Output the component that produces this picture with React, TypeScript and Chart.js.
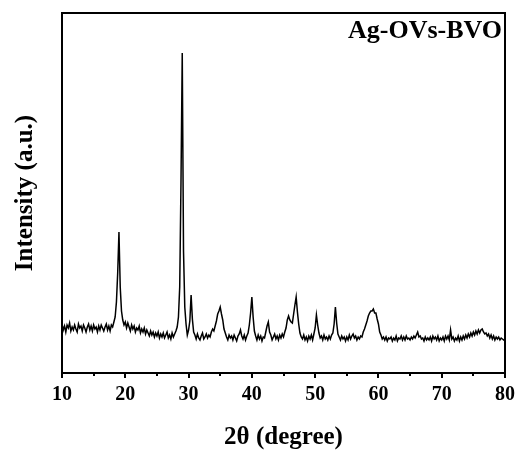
import React, { useEffect, useRef } from "react";
import { Chart, registerables } from "chart.js";

Chart.register(...registerables);

// 2θ grid: from START to END every STEP degrees
const START_2THETA = 10;
const STEP_2THETA = 0.2;

// intensity (a.u.), one row per degree: x.0, x.2, x.4, x.6, x.8
const intensity: number[] = [
  49, 43, 47, 41, 48, // 10
  45, 50, 42, 46, 43, // 11
  48, 44, 41, 49, 45, // 12
  47, 42, 48, 45, 41, // 13
  46, 49, 43, 47, 42, // 14
  48, 44, 46, 41, 47, // 15
  43, 48, 45, 42, 46, // 16
  49, 43, 47, 42, 48, // 17
  46, 51, 56, 71, 100, // 18
  141, 86, 62, 53, 48, // 19
  51, 45, 50, 46, 42, // 20
  48, 44, 47, 41, 45, // 21
  43, 47, 40, 44, 41, // 22
  45, 39, 43, 40, 37, // 23
  42, 38, 41, 36, 40, // 24
  37, 41, 35, 39, 36, // 25
  40, 35, 38, 41, 35, // 26
  38, 34, 40, 36, 39, // 27
  42, 46, 56, 86, 190, // 28
  320, 122, 66, 49, 38, // 29
  43, 52, 78, 54, 41, // 30
  38, 34, 39, 35, 33, // 31
  37, 40, 34, 36, 39, // 32
  35, 38, 36, 41, 44, // 33
  42, 47, 52, 59, 62, // 34
  66, 59, 53, 44, 40, // 35
  36, 33, 38, 35, 37, // 36
  33, 38, 35, 32, 37, // 37
  39, 43, 37, 34, 38, // 38
  33, 37, 40, 48, 60, // 39
  76, 56, 42, 37, 33, // 40
  38, 34, 37, 32, 36, // 41
  35, 41, 47, 51, 41, // 42
  38, 33, 36, 39, 34, // 43
  37, 33, 38, 35, 39, // 44
  36, 41, 45, 53, 57, // 45
  53, 51, 50, 59, 68, // 46
  76, 61, 49, 40, 36, // 47
  34, 38, 33, 36, 32, // 48
  37, 34, 38, 33, 39, // 49
  45, 58, 48, 40, 35, // 50
  37, 33, 38, 34, 36, // 51
  33, 37, 34, 38, 40, // 52
  49, 66, 50, 39, 36, // 53
  33, 37, 34, 36, 32, // 54
  36, 33, 38, 34, 37, // 55
  39, 35, 37, 33, 36, // 56
  34, 37, 36, 41, 44, // 57
  48, 52, 57, 60, 62, // 58
  62, 64, 60, 60, 54, // 59
  49, 41, 38, 34, 36, // 60
  33, 36, 32, 35, 34, // 61
  36, 32, 35, 33, 37, // 62
  32, 35, 34, 37, 33, // 63
  36, 33, 37, 34, 35, // 64
  33, 36, 34, 37, 35, // 65
  38, 41, 36, 37, 34, // 66
  35, 32, 36, 33, 35, // 67
  33, 36, 32, 37, 34, // 68
  36, 33, 37, 32, 35, // 69
  33, 36, 32, 37, 34, // 70
  37, 33, 43, 34, 36, // 71
  32, 35, 33, 37, 32, // 72
  36, 33, 37, 34, 38, // 73
  35, 39, 36, 40, 37, // 74
  41, 38, 42, 39, 43, // 75
  40, 43, 44, 41, 39, // 76
  40, 37, 39, 35, 38, // 77
  34, 37, 33, 36, 34, // 78
  36, 33, 35, 34, 33, // 79
  34, // 80
];

const xTicks = [10, 20, 30, 40, 50, 60, 70, 80];
const xMinorTicks = [15, 25, 35, 45, 55, 65, 75];
const sampleLabel = "Ag-OVs-BVO";
const xTitle = "2θ (degree)";
const yTitle = "Intensity (a.u.)";

const SERIF = "'Liberation Serif', 'Times New Roman', serif";

const frame = {
  id: "frame",
  afterDraw(chart: any) {
    const { ctx, chartArea, scales } = chart;
    const { left, right, top, bottom } = chartArea;
    ctx.save();
    ctx.strokeStyle = "#000";
    ctx.lineWidth = 2;
    ctx.strokeRect(left, top, right - left, bottom - top);
    // minor ticks
    ctx.lineWidth = 2;
    ctx.beginPath();
    for (const v of xMinorTicks) {
      const x = Math.round(scales.x.getPixelForValue(v));
      ctx.moveTo(x, bottom);
      ctx.lineTo(x, bottom + 3);
    }
    ctx.stroke();
    // sample label
    ctx.fillStyle = "#000";
    ctx.font = `bold 26px ${SERIF}`;
    ctx.textAlign = "right";
    ctx.textBaseline = "alphabetic";
    ctx.fillText(sampleLabel, right - 3, top + 25);
    ctx.restore();
  },
};

export default function App() {
  const ref = useRef<HTMLCanvasElement | null>(null);
  useEffect(() => {
    if (!ref.current) return;
    const points = intensity.map((y, i) => ({
      x: START_2THETA + i * STEP_2THETA,
      y,
    }));
    const chart = new Chart(ref.current, {
      type: "line",
      data: {
        datasets: [
          {
            data: points,
            borderColor: "#000",
            borderWidth: 1.5,
            pointRadius: 0,
            tension: 0,
            fill: false,
          },
        ],
      },
      options: {
        responsive: false,
        animation: false,
        layout: { padding: { top: 13, right: 13, left: 0, bottom: 0 } },
        plugins: {
          legend: { display: false },
          tooltip: { enabled: false },
        },
        scales: {
          x: {
            type: "linear",
            min: 10,
            max: 80,
            afterBuildTicks: (scale: any) => {
              scale.ticks = xTicks.map((v) => ({ value: v }));
            },
            afterFit: (scale: any) => {
              scale.height = 77;
            },
            ticks: {
              color: "#000",
              padding: 5,
              maxRotation: 0,
              autoSkip: false,
              font: { family: SERIF, size: 20, weight: "bold" },
            },
            grid: {
              display: true,
              drawOnChartArea: false,
              drawTicks: true,
              tickLength: 5,
              tickWidth: 2,
              tickColor: "#000",
              lineWidth: 2,
              color: "#000",
            },
            border: { display: false },
            title: {
              display: true,
              text: xTitle,
              color: "#000",
              padding: { top: 0, bottom: 0 },
              font: { family: SERIF, size: 25, weight: "bold", lineHeight: 1 },
            },
          },
          y: {
            min: 0,
            max: 360,
            afterFit: (scale: any) => {
              scale.width = 62;
            },
            ticks: { display: false },
            grid: { display: false },
            border: { display: false },
            title: {
              display: true,
              text: yTitle,
              color: "#000",
              padding: { top: 13, bottom: 0 },
              font: { family: SERIF, size: 25, weight: "bold", lineHeight: 1 },
            },
          },
        },
      },
      plugins: [frame],
    });
    return () => chart.destroy();
  }, []);
  return (
    <div style={{ position: "fixed", left: 0, top: 0, width: 520, height: 450, background: "#fff" }}>
      <canvas ref={ref} width={520} height={450} />
    </div>
  );
}
